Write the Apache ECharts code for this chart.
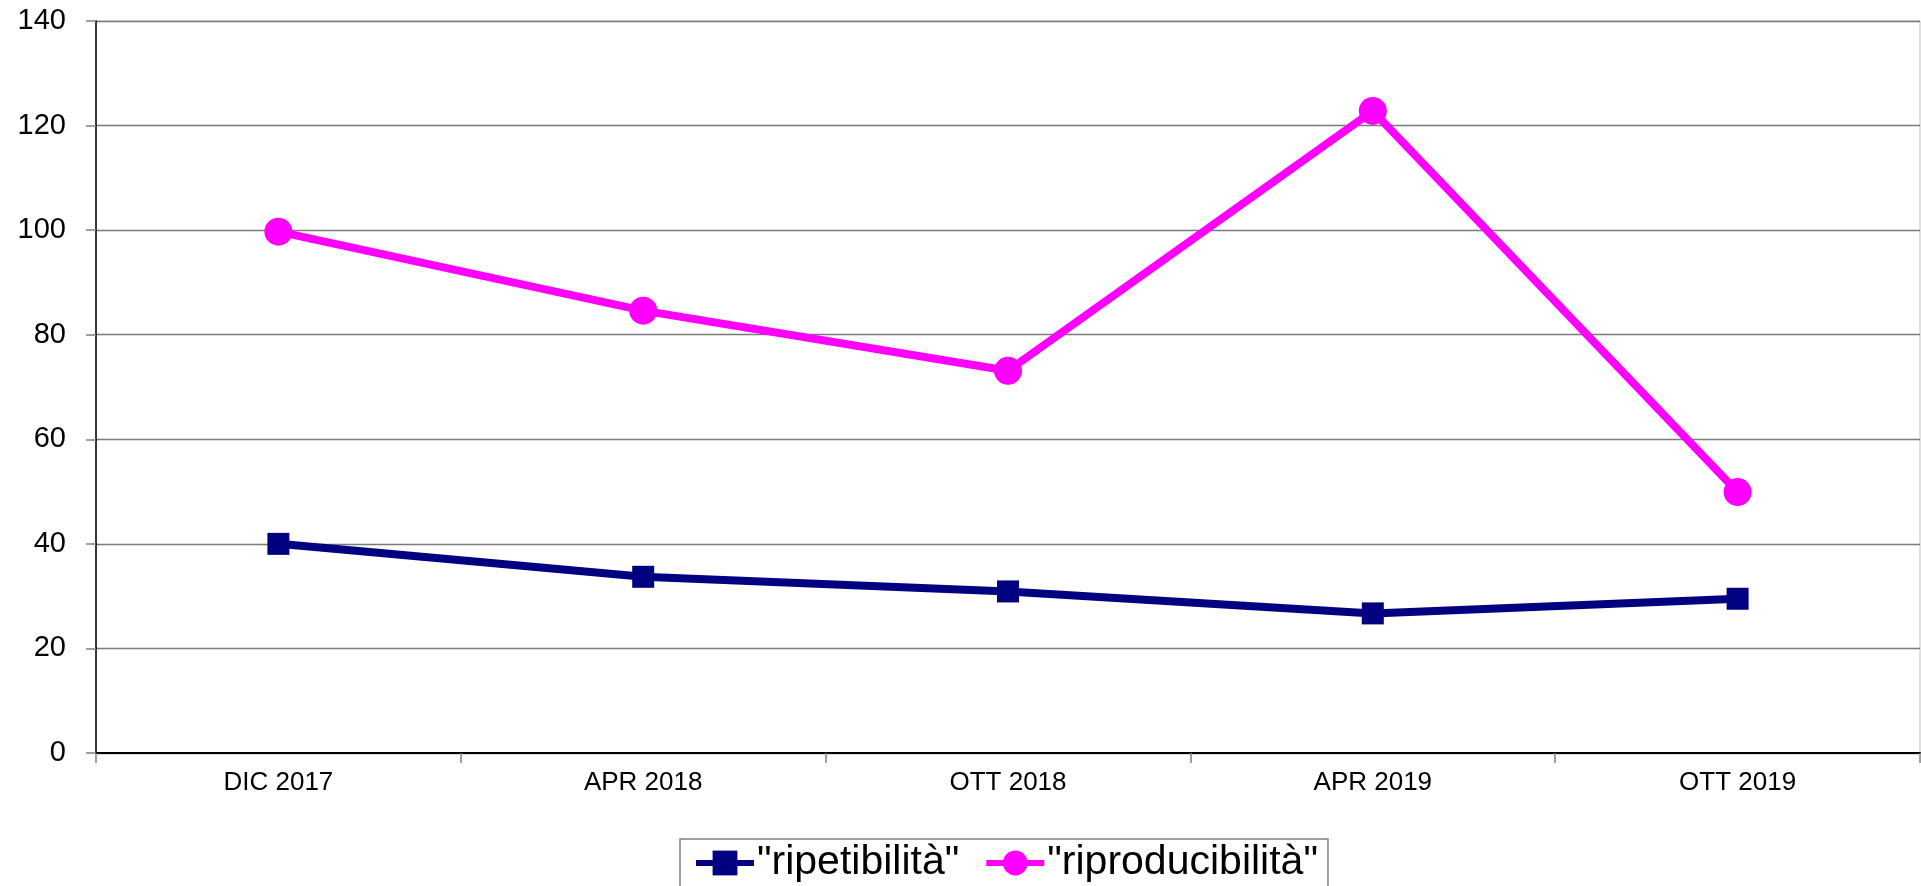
<!DOCTYPE html>
<html>
<head>
<meta charset="utf-8">
<script src="https://cdn.jsdelivr.net/npm/echarts@6/dist/echarts.min.js"></script>
<style>
  html, body { margin: 0; padding: 0; background: #fff; }
  #chart { width: 1921px; height: 886px; }
</style>
</head>
<body>
<div id="chart"></div>
<script>
// dati
var categorie = ['DIC 2017', 'APR 2018', 'OTT 2018', 'APR 2019', 'OTT 2019'];
var ripetibilita = [40.0, 33.7, 30.9, 26.7, 29.5];
var riproducibilita = [99.7, 84.6, 73.1, 122.8, 49.9];
var yTicks = [0, 20, 40, 60, 80, 100, 120, 140];

var myChart = echarts.init(document.getElementById('chart'));

var option = {
    animation: false,
    grid: {
        left: 96, right: 1, top: 21, bottom: 133,
        show: true,
        borderColor: '#c0c0c0',
        borderWidth: 1
    },
    legend: {
        left: 680,
        top: 839,
        padding: [0, 10, 30, 13],
        borderColor: '#808080',
        borderWidth: 1.5,
        itemWidth: 58,
        itemHeight: 31,
        itemGap: 24,
        lineStyle: { width: 6 },
        textStyle: {
            fontFamily: '"Liberation Sans", Arial, sans-serif',
            fontSize: 41,
            lineHeight: 48,
            color: '#000',
            padding: [0, 0, 0, -2]
        },
        data: ['"ripetibilità"', '"riproducibilità"']
    },
    xAxis: {
        type: 'category',
        data: categorie,
        boundaryGap: true,
        axisLine: { lineStyle: { color: '#000', width: 2 } },
        axisTick: { show: true, length: 10, lineStyle: { color: '#808080', width: 1.5 } },
        axisLabel: {
            margin: 17,
            fontFamily: '"Liberation Sans", Arial, sans-serif',
            fontSize: 26,
            color: '#000'
        }
    },
    yAxis: {
        type: 'value',
        min: yTicks[0],
        max: yTicks[yTicks.length - 1],
        interval: 20,
        axisLine: { show: true, lineStyle: { color: '#000', width: 1.5 } },
        axisTick: { show: true, length: 10, lineStyle: { color: '#808080', width: 1.5 } },
        axisLabel: {
            margin: 30,
            fontFamily: '"Liberation Sans", Arial, sans-serif',
            fontSize: 29,
            color: '#000'
        },
        splitLine: { show: true, lineStyle: { color: '#7a7a7a', width: 1.4 } }
    },
    series: [
        {
            name: '"ripetibilità"',
            type: 'line',
            data: ripetibilita,
            symbol: 'rect',
            symbolSize: 22,
            color: '#000080',
            lineStyle: { width: 8, color: '#000080' },
            itemStyle: { color: '#000080' }
        },
        {
            name: '"riproducibilità"',
            type: 'line',
            data: riproducibilita,
            symbol: 'circle',
            symbolSize: 28,
            color: '#ff00ff',
            lineStyle: { width: 8, color: '#ff00ff' },
            itemStyle: { color: '#ff00ff' }
        }
    ]
};

myChart.setOption(option);
</script>
</body>
</html>
